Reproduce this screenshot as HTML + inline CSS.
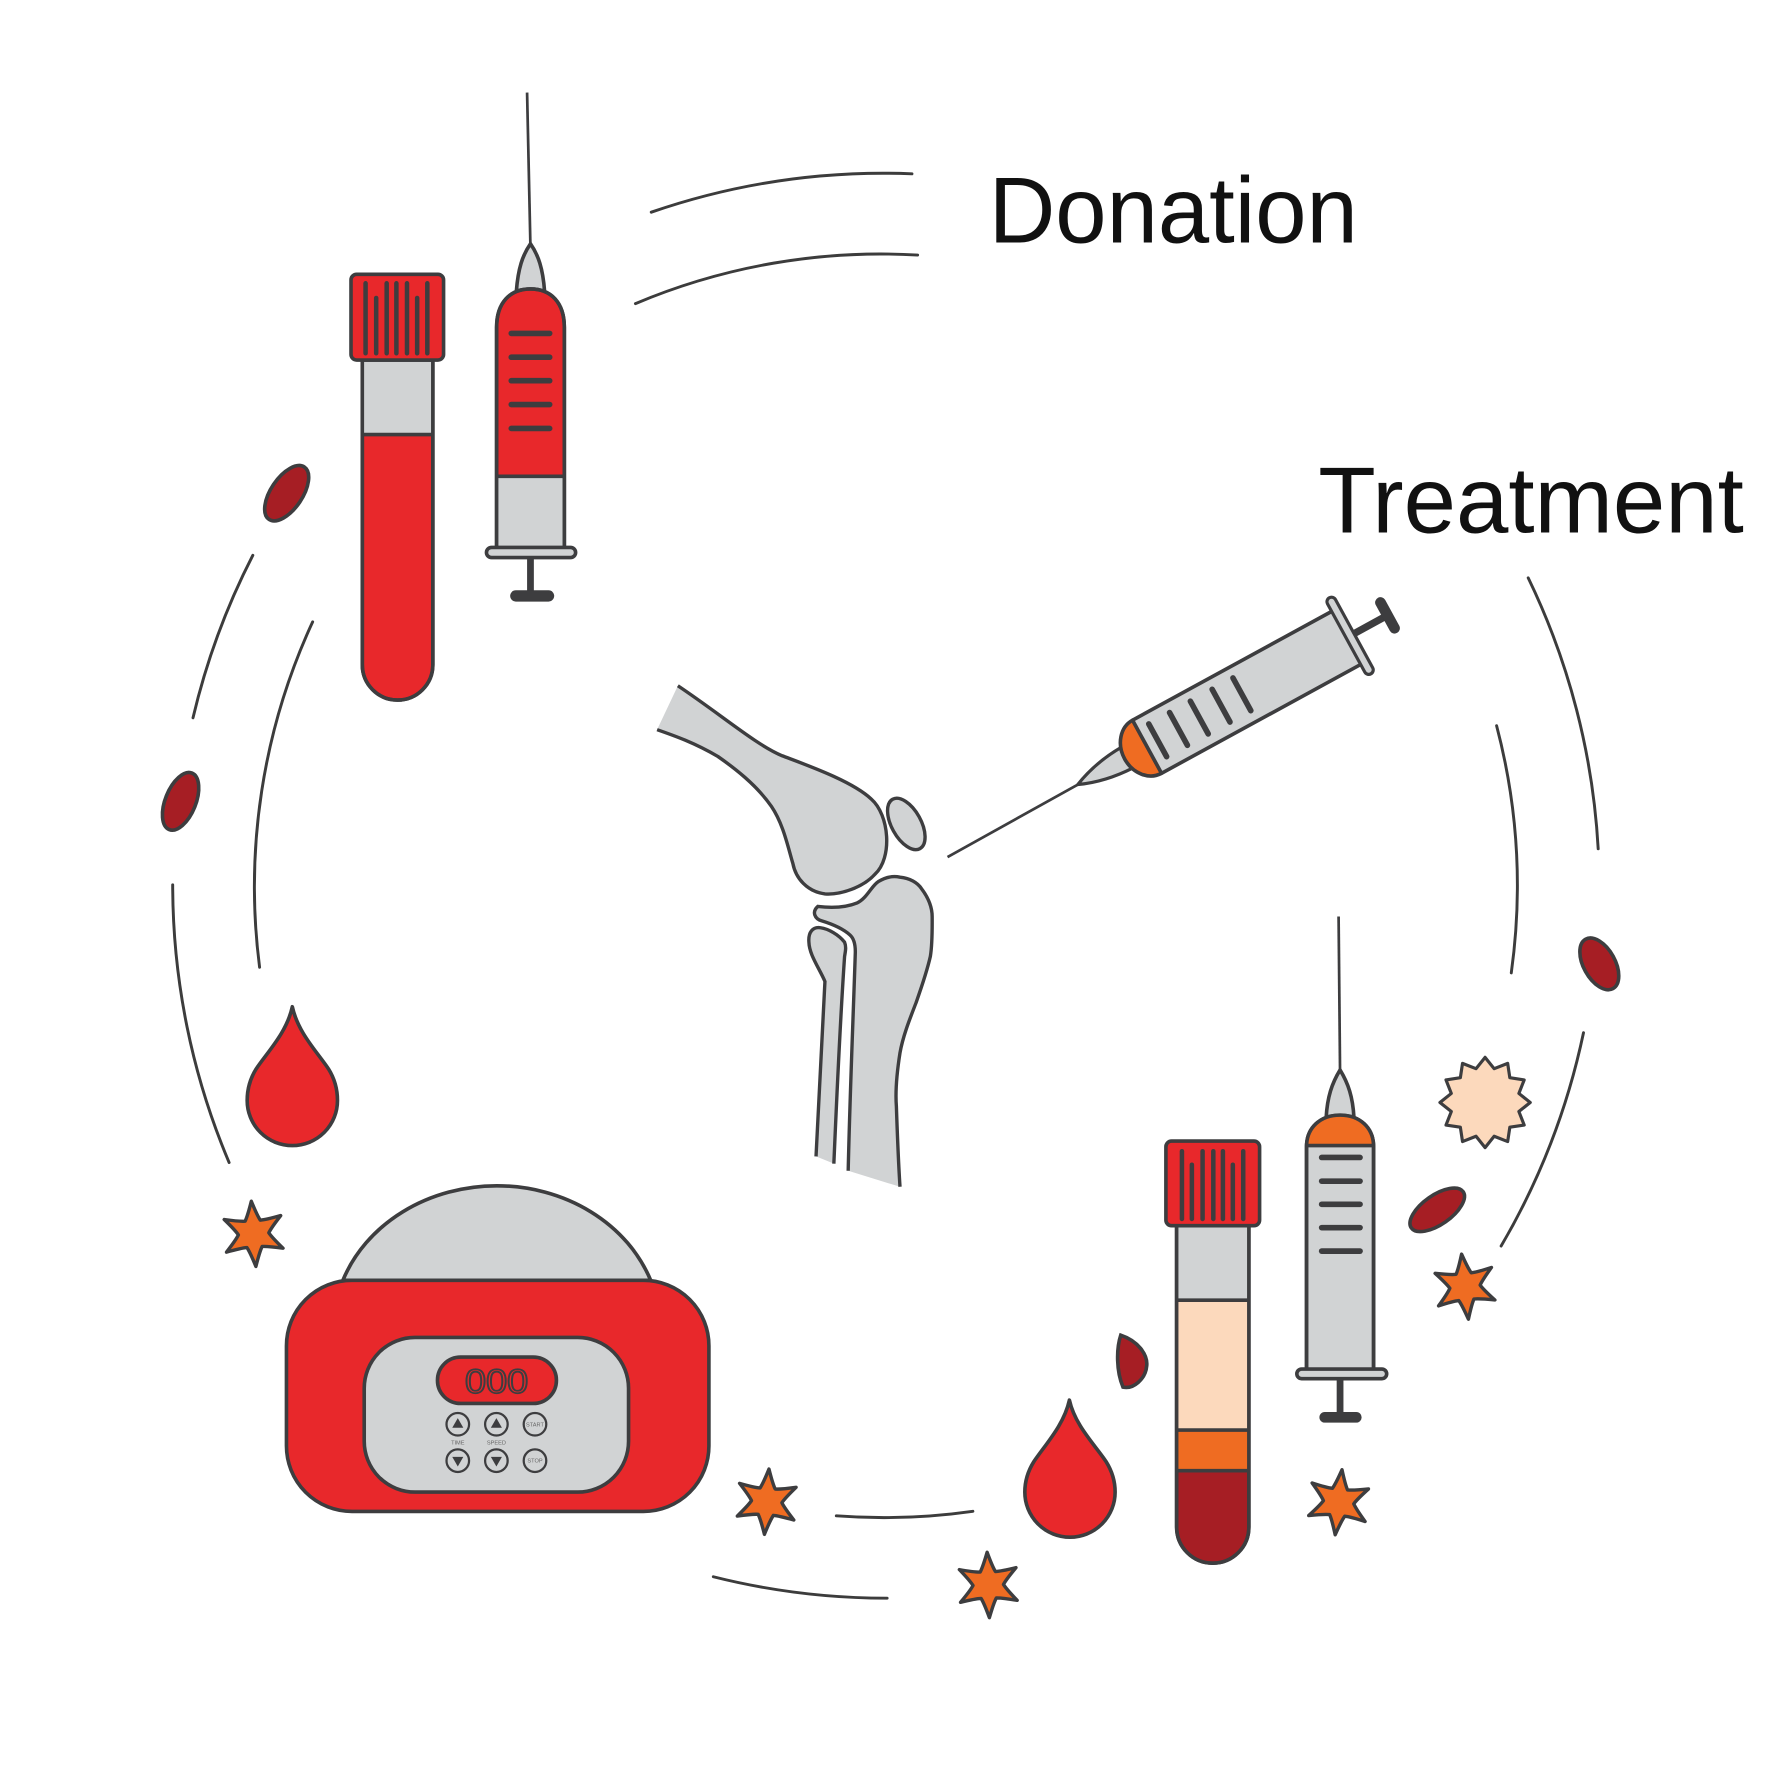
<!DOCTYPE html>
<html>
<head>
<meta charset="utf-8">
<style>
  html,body{margin:0;padding:0;background:#fff;}
  svg{display:block;}
  text{font-family:"Liberation Sans", "DejaVu Sans", sans-serif;}
</style>
</head>
<body>
<svg width="1772" height="1772" viewBox="0 0 1570 1570" xmlns="http://www.w3.org/2000/svg">
  <defs>
    <path id="star" d="M0,-29 Q4.27,-15.94 6.75,-11.69 Q11.67,-11.67 25.11,-14.5 Q15.94,-4.27 13.5,0 Q15.94,4.27 25.11,14.5 Q11.67,11.67 6.75,11.69 Q4.27,15.94 0,29 Q-4.27,15.94 -6.75,11.69 Q-11.67,11.67 -25.11,14.5 Q-15.94,4.27 -13.5,0 Q-15.94,-4.27 -25.11,-14.5 Q-11.67,-11.67 -6.75,-11.69 Q-4.27,-15.94 0,-29 Z" fill="#ef6c22" stroke="#3d3d3f" stroke-width="3" stroke-linejoin="round"/>
  </defs>
  <rect x="0" y="0" width="1570" height="1570" fill="#ffffff"/>

  <!-- circular arc segments -->
  <g fill="none" stroke="#3c3c3c" stroke-width="2.6" stroke-linecap="round">
    <path d="M577,188 A632,632 0 0 1 808,154"/>
    <path d="M1354,512 A632,632 0 0 1 1416,752"/>
    <path d="M1403,915 A632,632 0 0 1 1330,1104"/>
    <path d="M786,1416 A632,632 0 0 1 632,1397"/>
    <path d="M203,1030 A632,632 0 0 1 153,784"/>
    <path d="M171,636 A632,632 0 0 1 224,492"/>
    <path d="M563,269 A559,559 0 0 1 813,226"/>
    <path d="M1326,643 A559,559 0 0 1 1339,862"/>
    <path d="M862,1339 A559,559 0 0 1 741,1343"/>
    <path d="M230,857 A559,559 0 0 1 277,551"/>
  </g>

  <!-- labels -->
  <text x="876" y="215" font-size="83" fill="#111" textLength="327" lengthAdjust="spacingAndGlyphs">Donation</text>
  <text x="1168" y="472" font-size="83" fill="#111" textLength="377" lengthAdjust="spacingAndGlyphs">Treatment</text>

  <!-- ===== top-left tube ===== -->
  <g stroke="#3d3d3f" stroke-width="3.2" stroke-linejoin="round">
    <path d="M321,319 V589 A31.25,31.25 0 0 0 383.5,589 V319 Z" fill="#e8282b"/>
    <rect x="321" y="319" width="62.5" height="66" fill="#d1d3d4" stroke="none"/>
    <line x1="321" y1="385" x2="383.5" y2="385"/>
    <path d="M321,319 V589 A31.25,31.25 0 0 0 383.5,589 V319 Z" fill="none"/>
    <rect x="311" y="243" width="82" height="76" rx="5" fill="#e8282b"/>
  </g>
  <g stroke="#3d3d3f" stroke-width="4" stroke-linecap="round">
    <line x1="323.9" y1="251" x2="323.9" y2="313"/>
    <line x1="333.3" y1="264" x2="333.3" y2="313"/>
    <line x1="342.6" y1="251" x2="342.6" y2="313"/>
    <line x1="351.2" y1="251" x2="351.2" y2="313"/>
    <line x1="360.6" y1="251" x2="360.6" y2="313"/>
    <line x1="369.6" y1="264" x2="369.6" y2="313"/>
    <line x1="378.6" y1="251" x2="378.6" y2="313"/>
  </g>

  <!-- ===== top syringe ===== -->
  <g stroke="#3d3d3f" stroke-width="3.2" stroke-linejoin="round">
    <line x1="467" y1="82" x2="470" y2="220" stroke-width="2.4"/>
    <path d="M457.5,258 C459,238 463,226 470,216 C477,226 481,238 482.5,258 Z" fill="#d1d3d4"/>
    <path d="M440,487 V290 C440,268 452,256 470,256 C488,256 500,268 500,290 V487 Z" fill="#e8282b"/>
    <rect x="440" y="422" width="60" height="65" fill="#d1d3d4" stroke="none"/>
    <line x1="440" y1="422" x2="500" y2="422"/>
    <path d="M440,487 V290 C440,268 452,256 470,256 C488,256 500,268 500,290 V487 Z" fill="none"/>
    <rect x="431" y="485" width="79" height="9" rx="4.5" fill="#d1d3d4"/>
  </g>
  <rect x="467" y="494" width="6" height="30" fill="#3d3d3f"/>
  <rect x="452" y="523" width="39" height="10" rx="5" fill="#3d3d3f"/>
  <g stroke="#3d3d3f" stroke-width="5" stroke-linecap="round">
    <line x1="453" y1="295.4" x2="487" y2="295.4"/>
    <line x1="453" y1="316.5" x2="487" y2="316.5"/>
    <line x1="453" y1="337.3" x2="487" y2="337.3"/>
    <line x1="453" y1="358.4" x2="487" y2="358.4"/>
    <line x1="453" y1="379.6" x2="487" y2="379.6"/>
  </g>

  <!-- ===== red blood cells ===== -->
  <g fill="#a61e24" stroke="#3d3d3f" stroke-width="3.2">
    <ellipse cx="0" cy="0" rx="14" ry="28" transform="translate(254,437) rotate(34)"/>
    <ellipse cx="0" cy="0" rx="13.5" ry="27" transform="translate(160,710) rotate(22)"/>
    <ellipse cx="0" cy="0" rx="14" ry="25" transform="translate(1417,854) rotate(-29)"/>
    <ellipse cx="0" cy="0" rx="28" ry="13" transform="translate(1273.4,1071.9) rotate(-35)"/>
    <path d="M993,1183 C1008,1188 1017,1200 1016,1210 C1015,1222 1004,1231 995,1229 C989,1215 989,1195 993,1183 Z"/>
  </g>

  <!-- ===== drops ===== -->
  <g fill="#e8282b" stroke="#3d3d3f" stroke-width="3.2" stroke-linejoin="round">
    <path d="M259,892 C264,915 281,932 291,947 C296,955 299,965 299,975 A40,40 0 0 1 219,975 C219,965 222,955 227,947 C237,932 254,915 259,892 Z"/>
    <path d="M947.5,1240.5 C952.5,1263 970,1280 980,1295 C985,1303 988,1312 988,1322 A40,40 0 0 1 908,1322 C908,1312 911,1303 916,1295 C926,1280 942.5,1263 947.5,1240.5 Z"/>
  </g>

  <!-- ===== stars ===== -->
  <use href="#star" transform="translate(224.7,1093.2) rotate(-4)"/>
  <use href="#star" transform="translate(679.3,1330.5) rotate(4)"/>
  <use href="#star" transform="translate(875.6,1404.3) rotate(-2)"/>
  <use href="#star" transform="translate(1186,1331) rotate(6)"/>
  <use href="#star" transform="translate(1298,1140) rotate(-6)"/>

  <!-- sunburst -->
  <polygon transform="translate(1315.8,976.8)" points="0,-40 8.02,-29.94 20,-34.64 21.92,-21.92 34.64,-20 29.94,-8.02 40,0 29.94,8.02 34.64,20 21.92,21.92 20,34.64 8.02,29.94 0,40 -8.02,29.94 -20,34.64 -21.92,21.92 -34.64,20 -29.94,8.02 -40,0 -29.94,-8.02 -34.64,-20 -21.92,-21.92 -20,-34.64 -8.02,-29.94" fill="#fcd9bc" stroke="#3d3d3f" stroke-width="2.8" stroke-linejoin="round"/>

  <!-- ===== centrifuge ===== -->
  <g stroke="#3d3d3f" stroke-width="3.2" stroke-linejoin="round">
    <path d="M303.8,1134.4 A145,127 0 0 1 576.5,1134.4 Z" fill="#d1d3d4"/>
    <rect x="253.8" y="1134.4" width="374.3" height="204.7" rx="58" fill="#e8282b"/>
    <rect x="322.7" y="1185" width="234.2" height="137" rx="45" fill="#d1d3d4"/>
    <rect x="387.6" y="1202.4" width="105.4" height="41.1" rx="20.5" fill="#e8282b"/>
  </g>
  <text x="440" y="1234" font-size="30" text-anchor="middle" fill="#e8282b" stroke="#3d3d3f" stroke-width="1.6" textLength="56" lengthAdjust="spacingAndGlyphs">000</text>
  <g fill="#d1d3d4" stroke="#3d3d3f" stroke-width="2">
    <circle cx="405.6" cy="1261.9" r="10"/>
    <circle cx="439.8" cy="1261.9" r="10"/>
    <circle cx="474" cy="1261.9" r="10"/>
    <circle cx="405.6" cy="1294.2" r="10"/>
    <circle cx="439.8" cy="1294.2" r="10"/>
    <circle cx="474" cy="1294.2" r="10"/>
  </g>
  <g fill="#3d3d3f">
    <polygon points="405.6,1256.5 410.5,1265 400.7,1265"/>
    <polygon points="439.8,1256.5 444.7,1265 434.9,1265"/>
    <polygon points="400.7,1290.8 410.5,1290.8 405.6,1299.3"/>
    <polygon points="434.9,1290.8 444.7,1290.8 439.8,1299.3"/>
  </g>
  <g font-size="5" fill="#666" text-anchor="middle">
    <text x="474" y="1263.8">START</text>
    <text x="474" y="1296">STOP</text>
    <text x="405.6" y="1280">TIME</text>
    <text x="439.8" y="1280">SPEED</text>
  </g>

  <!-- ===== knee ===== -->
  <path d="M600.6,607.6 C640,634 670,660 693,669.6 C715,678 755,692 772,708 C788,722 791,760 775.2,774.6 C765,786 745,793 731,792 C715,790 705,778 702.5,765.1 C698,750 694,730 683.5,714.5 C670,695 650,680 636,670.2 C615,658 598,652 582.2,646.5 Z" fill="#d1d3d4"/>
  <path d="M600.6,607.6 C640,634 670,660 693,669.6 C715,678 755,692 772,708 C788,722 791,760 775.2,774.6 C765,786 745,793 731,792 C715,790 705,778 702.5,765.1 C698,750 694,730 683.5,714.5 C670,695 650,680 636,670.2 C615,658 598,652 582.2,646.5" fill="none" stroke="#3d3d3f" stroke-width="3"/>
  <ellipse cx="0" cy="0" rx="13" ry="25" transform="translate(803,730) rotate(-29)" fill="#d1d3d4" stroke="#3d3d3f" stroke-width="3"/>
  <path d="M751.5,1037.3 C753,970 756,900 757.8,844.2 C758,836 756,831 753.1,828.4 C746,822 735,818 727.8,815.8 C722,814 719,808 724.6,803.1 C740,805 752,803 759.4,800 C768,796 772,785 778.4,781 C785,777 792,776 797.4,777.2 C806,778 813,782 816.4,787.3 C823,796 826,804 825.9,812.6 C826,825 826,837 824.3,847.4 C821,862 816,876 811.6,888.5 C806,903 800,918 797.4,932.8 C795,948 793,965 794.2,980.3 C795,1004 796,1030 797.4,1051.5 Z" fill="#d1d3d4"/>
  <path d="M751.5,1037.3 C753,970 756,900 757.8,844.2 C758,836 756,831 753.1,828.4 C746,822 735,818 727.8,815.8 C722,814 719,808 724.6,803.1 C740,805 752,803 759.4,800 C768,796 772,785 778.4,781 C785,777 792,776 797.4,777.2 C806,778 813,782 816.4,787.3 C823,796 826,804 825.9,812.6 C826,825 826,837 824.3,847.4 C821,862 816,876 811.6,888.5 C806,903 800,918 797.4,932.8 C795,948 793,965 794.2,980.3 C795,1004 796,1030 797.4,1051.5" fill="none" stroke="#3d3d3f" stroke-width="3"/>
  <path d="M723,1024.6 C726,960 729,900 730.9,869.6 C726,858 717,846 716.7,834.8 C716,826 720,821 727,822 C734,823 743,828 748.3,834.8 C750,839 749,843 748.3,847.4 C744,910 741,980 738.8,1031 Z" fill="#d1d3d4"/>
  <path d="M723,1024.6 C726,960 729,900 730.9,869.6 C726,858 717,846 716.7,834.8 C716,826 720,821 727,822 C734,823 743,828 748.3,834.8 C750,839 749,843 748.3,847.4 C744,910 741,980 738.8,1031" fill="none" stroke="#3d3d3f" stroke-width="3"/>

  <!-- ===== diagonal syringe ===== -->
  <g transform="translate(1016.3,661.6) rotate(-28.65)" stroke="#3d3d3f" stroke-linejoin="round">
    <line x1="-202" y1="1" x2="-68" y2="0" stroke-width="2.4"/>
    <path d="M-20,-10.5 C-38,-10 -56,-6 -70,0 C-56,6 -38,10 -20,10.5 Z" fill="#d1d3d4" stroke-width="2.8"/>
    <path d="M0,-26.8 A22.6,26.8 0 0 0 0,26.8 Z" fill="#ef6c22" stroke-width="3.2"/>
    <rect x="0" y="-26.8" width="202" height="53.6" fill="#d1d3d4" stroke-width="3.2"/>
    <g stroke-width="5" stroke-linecap="round">
      <line x1="11" y1="-17" x2="11" y2="16"/>
      <line x1="32" y1="-17" x2="32" y2="16"/>
      <line x1="53" y1="-17" x2="53" y2="16"/>
      <line x1="75" y1="-17" x2="75" y2="16"/>
      <line x1="96" y1="-17" x2="96" y2="16"/>
    </g>
    <rect x="201" y="-38.4" width="8" height="76.8" rx="4" fill="#d1d3d4" stroke-width="2.8"/>
    <rect x="209" y="-3.2" width="31" height="6.4" fill="#3d3d3f" stroke="none"/>
    <rect x="238" y="-17.7" width="9.5" height="35.4" rx="4.7" fill="#3d3d3f" stroke="none"/>
  </g>

  <!-- ===== bottom-right tube ===== -->
  <g stroke="#3d3d3f" stroke-width="3.2" stroke-linejoin="round">
    <path d="M1042.5,1086 V1353 A32,32 0 0 0 1106.5,1353 V1086 Z" fill="#a61e24"/>
    <rect x="1042.5" y="1086" width="64" height="66" fill="#d1d3d4" stroke="none"/>
    <rect x="1042.5" y="1152" width="64" height="115" fill="#fcd9bc" stroke="none"/>
    <rect x="1042.5" y="1267" width="64" height="36" fill="#ef6c22" stroke="none"/>
    <line x1="1042.5" y1="1152" x2="1106.5" y2="1152"/>
    <line x1="1042.5" y1="1267" x2="1106.5" y2="1267"/>
    <line x1="1042.5" y1="1303" x2="1106.5" y2="1303"/>
    <path d="M1042.5,1086 V1353 A32,32 0 0 0 1106.5,1353 V1086 Z" fill="none"/>
    <rect x="1033" y="1011" width="83" height="75" rx="5" fill="#e8282b"/>
  </g>
  <g stroke="#3d3d3f" stroke-width="4" stroke-linecap="round">
    <line x1="1047.2" y1="1020" x2="1047.2" y2="1080"/>
    <line x1="1056" y1="1032" x2="1056" y2="1080"/>
    <line x1="1065.5" y1="1020" x2="1065.5" y2="1080"/>
    <line x1="1075" y1="1020" x2="1075" y2="1080"/>
    <line x1="1083.5" y1="1020" x2="1083.5" y2="1080"/>
    <line x1="1092.3" y1="1032" x2="1092.3" y2="1080"/>
    <line x1="1101.5" y1="1020" x2="1101.5" y2="1080"/>
  </g>

  <!-- ===== bottom-right syringe ===== -->
  <g stroke="#3d3d3f" stroke-width="3.2" stroke-linejoin="round">
    <line x1="1186" y1="812" x2="1187.3" y2="950" stroke-width="2.4"/>
    <path d="M1175,990 C1176,972 1180,960 1187.3,948 C1194.6,960 1198.6,972 1199.6,990 Z" fill="#d1d3d4"/>
    <path d="M1157.6,1214 V1016 C1157.6,999 1170,988 1187.3,988 C1204.6,988 1217,999 1217,1016 V1214 Z" fill="#d1d3d4"/>
    <path d="M1157.6,1015 C1157.6,999 1170,988 1187.3,988 C1204.6,988 1217,999 1217,1015 Z" fill="#ef6c22" stroke="none"/>
    <line x1="1157.6" y1="1015" x2="1217" y2="1015"/>
    <path d="M1157.6,1214 V1016 C1157.6,999 1170,988 1187.3,988 C1204.6,988 1217,999 1217,1016 V1214 Z" fill="none"/>
    <rect x="1149" y="1213" width="79.6" height="8.5" rx="4.2" fill="#d1d3d4"/>
  </g>
  <rect x="1184.3" y="1221.5" width="6" height="31" fill="#3d3d3f"/>
  <rect x="1169" y="1251" width="37.4" height="9.5" rx="4.7" fill="#3d3d3f"/>
  <g stroke="#3d3d3f" stroke-width="5" stroke-linecap="round">
    <line x1="1171" y1="1025.5" x2="1205" y2="1025.5"/>
    <line x1="1171" y1="1046.5" x2="1205" y2="1046.5"/>
    <line x1="1171" y1="1067" x2="1205" y2="1067"/>
    <line x1="1171" y1="1087.7" x2="1205" y2="1087.7"/>
    <line x1="1171" y1="1108.5" x2="1205" y2="1108.5"/>
  </g>
</svg>
</body>
</html>
